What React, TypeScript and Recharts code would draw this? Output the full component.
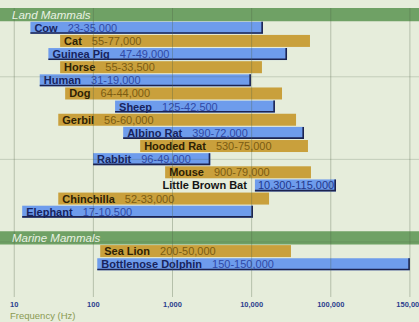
import React from "react";
import { BarChart, Bar, XAxis, YAxis, ReferenceLine, ReferenceArea } from "recharts";

// ---- data (bar extents, labels as printed) ----
const groupTitles = ["Land Mammals", "Marine Mammals"];

const landAnimals = [
  "Cow", "Cat", "Guinea Pig", "Horse", "Human", "Dog", "Sheep", "Gerbil",
  "Albino Rat", "Hooded Rat", "Rabbit", "Mouse", "Little Brown Bat", "Chinchilla", "Elephant",
];
const landLowHz = [16, 38, 27, 38, 21, 44, 188, 36, 238, 390, 99, 807, 11000, 36, 12.6];
const landHighHz = [13900, 54600, 28000, 13500, 9800, 24200, 19700, 36400, 45900, 51500, 3000, 56200, 103300, 16600, 10400];
const landRangeLabels = [
  "23-35,000", "55-77,000", "47-49,000", "55-33,500", "31-19,000", "64-44,000", "125-42,500", "56-60,000",
  "390-72,000", "530-75,000", "96-49,000", "900-79,000", "10,300-115,000", "52-33,000", "17-10,500",
];

const marineAnimals = ["Sea Lion", "Bottlenose Dolphin"];
const marineLowHz = [122, 112];
const marineHighHz = [31400, 150000];
const marineRangeLabels = ["200-50,000", "150-150,000"];

const tickHz = [10, 100, 1000, 10000, 100000, 150000];
const tickLabels = ["10", "100", "1,000", "10,000", "100,000", "150,000"];
const hLineRows = [4, 10, 16, 22];

// axis transform: log decades up to 100,000, then the last segment to 150,000
const toAxis = (hz: number) => (hz <= 100000 ? Math.log10(hz) : 5 + (hz - 100000) / 50000);

type Row = { key: string; name?: string; range?: [number, number] | null; label?: string; blue?: boolean };

const rows: Row[] = [];
rows.push({ key: "hdr-land" });
landAnimals.forEach((a, i) =>
  rows.push({ key: a, name: a, range: [toAxis(landLowHz[i]), toAxis(landHighHz[i])], label: landRangeLabels[i] })
);
rows.push({ key: "gap-1" });
rows.push({ key: "hdr-marine" });
marineAnimals.forEach((a, i) =>
  rows.push({ key: a, name: a, range: [toAxis(marineLowHz[i]), toAxis(marineHighHz[i])], label: marineRangeLabels[i] })
);
rows.push({ key: "gap-2" });
rows.push({ key: "gap-3" });
rows.forEach((r, i) => {
  r.blue = i % 2 === 1;
});

const outsideName = new Set(["Little Brown Bat"]);

const BLUE = "#6e9cec";
const GOLD = "#c9a03c";
const FONT = "'Liberation Sans', Arial, Helvetica, sans-serif";

const BarShape = (props: any) => {
  const { x, y, width, height, payload } = props;
  if (!payload || !payload.range) return null;
  const blue = payload.blue;
  const fill = blue ? BLUE : GOLD;
  const nameColor = blue ? "#18245e" : "#2e2204";
  const rangeColor = blue ? "#3049a6" : "#7c5c12";
  const ty = y + height / 2 + 4;
  const outside = outsideName.has(payload.name);
  return (
    <g>
      <rect x={x} y={y} width={width} height={height} fill={fill} />
      {blue && (
        <path
          d={`M${x},${y + height - 0.8}H${x + width - 0.8}V${y}`}
          stroke="#1c2350"
          strokeWidth={1.6}
          fill="none"
        />
      )}
      {outside ? (
        <g fontFamily={FONT} fontSize={11}>
          <text x={x - 8} y={ty} textAnchor="end" fontWeight={700} fill="#151515">
            {payload.name}
          </text>
          <text x={x + 3} y={ty} fill="#23388c">
            {payload.label}
          </text>
        </g>
      ) : (
        <text x={x + 4} y={ty} fontFamily={FONT} fontSize={11}>
          <tspan fontWeight={700} fill={nameColor}>
            {payload.name}
          </tspan>
          <tspan dx={10} fill={rangeColor}>
            {payload.label}
          </tspan>
        </text>
      )}
    </g>
  );
};

const FreqLabel = (props: any) => {
  const vb = props.viewBox || {};
  return (
    <text x={(vb.x || 0) + 10} y={(vb.y || 0) + (vb.height || 0) - 3.5} fontFamily={FONT} fontSize={9.5} fill="#8a9a52">
      Frequency (Hz)
    </text>
  );
};

export default function App() {
  const ticks = tickHz.map(toAxis);
  return (
    <div style={{ position: "absolute", left: 0, top: 0, width: 419, height: 322, background: "#e6eddb" }}>
      <BarChart
        width={419}
        height={322}
        data={rows}
        layout="vertical"
        margin={{ top: 8, right: 0, bottom: 0, left: 0 }}
        barCategoryGap="5%"
      >
        <XAxis
          type="number"
          domain={[0.82, 6.115]}
          allowDataOverflow
          ticks={ticks}
          tickFormatter={(v: number) => tickLabels[ticks.findIndex((t) => Math.abs(t - v) < 1e-6)] ?? ""}
          axisLine={false}
          tickLine={false}
          tickSize={4}
          tickMargin={1}
          height={25}
          interval={0}
          tick={{ fontSize: 7.5, fontWeight: 700, fill: "#2c3e8e", fontFamily: FONT }}
          label={<FreqLabel />}
        />
        <YAxis type="category" dataKey="key" hide />
        <YAxis yAxisId="grid" type="number" domain={[0, rows.length]} reversed hide />
        <ReferenceArea
          y1="hdr-land"
          y2="hdr-land"
          fill="#6fa165"
          fillOpacity={1}
          stroke="none"
          label={{ value: groupTitles[0], position: "insideLeft", offset: 12, fill: "#e9f1e3", fontSize: 11.5, fontStyle: "italic", fontFamily: FONT }}
        />
        <ReferenceArea
          y1="hdr-marine"
          y2="hdr-marine"
          fill="#6fa165"
          fillOpacity={1}
          stroke="none"
          label={{ value: groupTitles[1], position: "insideLeft", offset: 12, fill: "#e9f1e3", fontSize: 11.5, fontStyle: "italic", fontFamily: FONT }}
        />
        <Bar dataKey="range" shape={<BarShape />} isAnimationActive={false} />
        {ticks.map((t) => (
          <ReferenceLine key={"v" + t} x={t} stroke="#4d6043" strokeOpacity={0.32} strokeWidth={1} />
        ))}
        {hLineRows.map((r) => (
          <ReferenceLine key={"h" + r} yAxisId="grid" y={r} stroke="#4d6043" strokeOpacity={0.22} strokeWidth={1} />
        ))}
      </BarChart>
    </div>
  );
}
